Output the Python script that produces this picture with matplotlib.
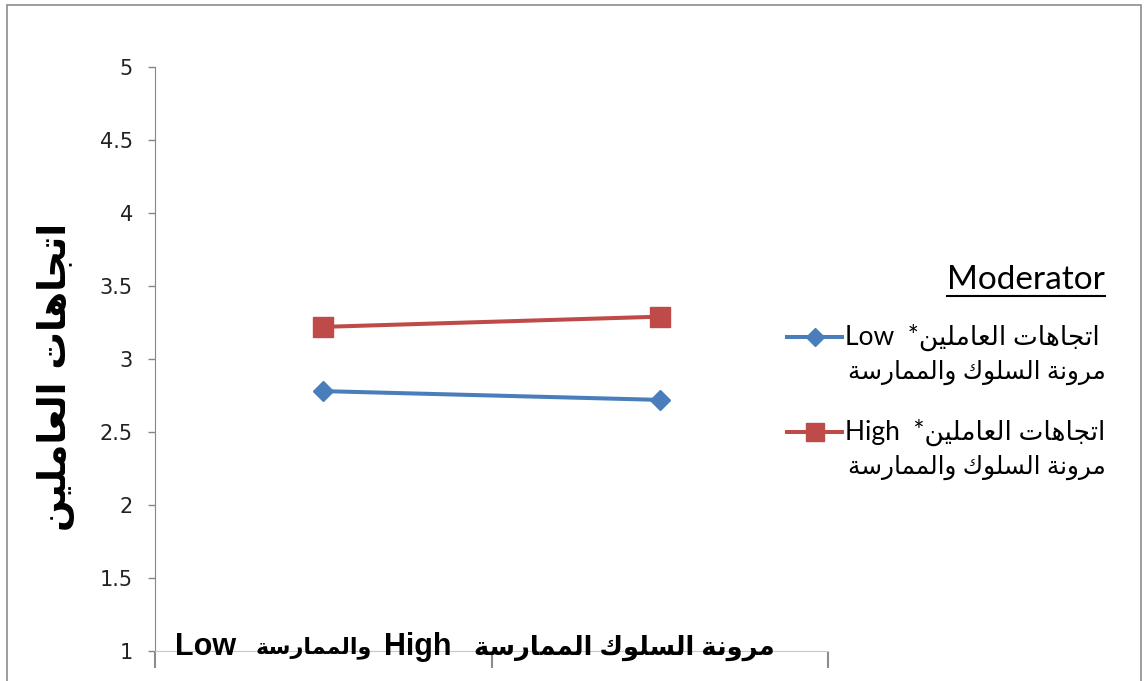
import matplotlib
matplotlib.use("Agg")
import matplotlib.pyplot as plt
from matplotlib.lines import Line2D
from matplotlib.patches import Rectangle

# values
groups = ["Low", "High"]
low_moderator = [2.78, 2.72]
high_moderator = [3.22, 3.29]
yticks = [1, 1.5, 2, 2.5, 3, 3.5, 4, 4.5, 5]
ytick_labels = ["1", "1.5", "2", "2.5", "3", "3.5", "4", "4.5", "5"]
series_names = ["Low", "High"]
series_values = [low_moderator, high_moderator]
series_colors = ["#4A7EBB", "#BE4B48"]
series_markers = ["D", "s"]
series_msize = [10, 14]

ylabel_text = "اتجاهات العاملين"
legend_part1 = "اتجاهات العاملين"
legend_part2 = "مرونة السلوك والممارسة"

# contextual forms (isolated, final, initial, medial) for the letters used
FORMS = {
    'ا': ('\uFE8D', '\uFE8E', None, None),
    'ر': ('\uFEAD', '\uFEAE', None, None),
    'و': ('\uFEED', '\uFEEE', None, None),
    'ة': ('\uFE93', '\uFE94', None, None),
    'ت': ('\uFE95', '\uFE96', '\uFE97', '\uFE98'),
    'ج': ('\uFE9D', '\uFE9E', '\uFE9F', '\uFEA0'),
    'ه': ('\uFEE9', '\uFEEA', '\uFEEB', '\uFEEC'),
    'ل': ('\uFEDD', '\uFEDE', '\uFEDF', '\uFEE0'),
    'ع': ('\uFEC9', '\uFECA', '\uFECB', '\uFECC'),
    'م': ('\uFEE1', '\uFEE2', '\uFEE3', '\uFEE4'),
    'ي': ('\uFEF1', '\uFEF2', '\uFEF3', '\uFEF4'),
    'ن': ('\uFEE5', '\uFEE6', '\uFEE7', '\uFEE8'),
    'س': ('\uFEB1', '\uFEB2', '\uFEB3', '\uFEB4'),
    'ك': ('\uFED9', '\uFEDA', '\uFEDB', '\uFEDC'),
}


def ar(text):
    # shape arabic letters and put them in visual (left to right) order
    out = []
    for i, ch in enumerate(text):
        f = FORMS.get(ch)
        if f is None:
            out.append(ch)
            continue
        prev = text[i - 1] if i > 0 else ''
        nxt = text[i + 1] if i < len(text) - 1 else ''
        jp = prev in FORMS and FORMS[prev][2] is not None
        jn = f[2] is not None and nxt in FORMS
        if jp and jn:
            out.append(f[3])
        elif jp:
            out.append(f[1])
        elif jn:
            out.append(f[2])
        else:
            out.append(f[0])
    return ''.join(reversed(out))


W, H = 1144, 681


def px(x, y):
    return x / W, 1 - y / H


fig = plt.figure(figsize=(W / 100, H / 100), dpi=100)
ax = fig.add_axes([155 / W, 30 / H, 673 / W, 584 / H])

x = list(range(len(groups)))
for vals, c, m, ms in zip(series_values, series_colors, series_markers, series_msize):
    ax.plot(x, vals, color=c, lw=2.9, marker=m, ms=ms, mec=c, mfc=c)

ax.set_xlim(-0.5, 1.5)
ax.set_ylim(1, 5)
ax.set_yticks(yticks)
ax.set_yticklabels(ytick_labels)
ax.set_xticks([-0.5, 0.5, 1.5])
ax.set_xticklabels([])
ax.tick_params(axis='y', length=5, width=1, color='#868686', pad=11,
               labelsize=15, labelcolor='#222222')
ax.tick_params(axis='x', length=12, width=1.5, color='#8C8C8C')
for s in ['top', 'right']:
    ax.spines[s].set_visible(False)
ax.spines['left'].set_color('#868686')
ax.spines['bottom'].set_color('#C8C8C8')

# y axis title
fig.text(*px(56, 377), ar(ylabel_text), rotation=90, ha='center', va='center',
         fontsize=27, fontweight='bold', family=['DejaVu Sans'])

# category text along the bottom
bold = dict(va='center', fontweight='bold', family=['Liberation Sans', 'DejaVu Sans'])
fig.text(*px(175, 647), "Low", ha='left', fontsize=22, **bold)
fig.text(*px(314, 648), ar("والممارسة"), ha='center', fontsize=16, **bold)
fig.text(*px(418, 647), "High", ha='center', fontsize=22, **bold)
fig.text(*px(775, 648), ar("مرونة السلوك الممارسة"), ha='right', fontsize=18.5, **bold)

# legend drawn by hand
title = fig.text(*px(1105, 280), "Moderator", ha='right', va='center',
                 fontsize=24, family=['Lato'])
fig.canvas.draw()
bb = title.get_window_extent()
fig.add_artist(Line2D([bb.x0 / W, bb.x1 / W], [(bb.y0 - 1) / H, (bb.y0 - 1) / H],
                      transform=fig.transFigure, color='black', lw=1.5))

entry_y = [337, 432]
for name, c, m, ms, ey in zip(series_names, series_colors, series_markers,
                              series_msize, entry_y):
    x0, y0 = px(787, ey)
    x1, _ = px(842, ey)
    fig.add_artist(Line2D([x0, (x0 + x1) / 2, x1], [y0, y0, y0], transform=fig.transFigure,
                          color=c, lw=2.9, marker=m, ms=ms * 0.9, mec=c, mfc=c,
                          markevery=[1]))
    fig.text(*px(845, ey), name + "  *" + ar(legend_part1), ha='left', va='center',
             fontsize=19, family=['Lato', 'DejaVu Sans'])
    fig.text(*px(848, ey + 35), ar(legend_part2), ha='left', va='center',
             fontsize=17.8, family=['Lato', 'DejaVu Sans'])

# chart area border
fig.add_artist(Rectangle(px(7, 690), 1134 / W, 685 / H, transform=fig.transFigure,
                         fill=False, edgecolor='#8C8C8C', lw=1.2))

fig.savefig("out.png", dpi=100)
